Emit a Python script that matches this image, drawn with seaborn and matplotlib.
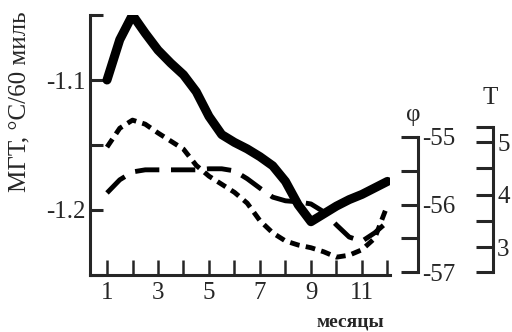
import numpy as np
import matplotlib
matplotlib.use('Agg')
import matplotlib.pyplot as plt
import seaborn as sns

# Данные (шаг - полмесяца)
months = [1, 1.5, 2, 2.5, 3, 3.5, 4, 4.5, 5, 5.5, 6, 6.5,
          7, 7.5, 8, 8.5, 9, 9.5, 10, 10.5, 11, 11.5, 12]
mgt = [-1.100, -1.069, -1.050, -1.064, -1.077, -1.087, -1.096, -1.109,
       -1.128, -1.142, -1.148, -1.153, -1.159, -1.166, -1.178, -1.196,
       -1.209, -1.203, -1.197, -1.192, -1.188, -1.183, -1.178]
phi = [-55.15, -54.87, -54.75, -54.81, -54.94, -55.06, -55.18, -55.42,
       -55.58, -55.70, -55.82, -55.98, -56.24, -56.42, -56.54, -56.60,
       -56.64, -56.70, -56.78, -56.75, -56.67, -56.50, -56.01]
temp = [4.03, 4.28, 4.43, 4.47, 4.47, 4.47, 4.47, 4.47, 4.49, 4.49,
        4.45, 4.30, 4.12, 3.95, 3.88, 3.86, 3.82, 3.67, 3.42, 3.19,
        3.11, 3.27, 3.48]

month_ticks = list(range(1, 13))
month_labels = [str(m) if m % 2 else '' for m in month_ticks]

sns.set_style('ticks')
plt.rcParams['font.family'] = ['Liberation Serif', 'DejaVu Serif']
plt.rcParams['axes.linewidth'] = 2.2

fig = plt.figure(figsize=(5.12, 3.32), dpi=100)
ax = fig.add_axes([90 / 512, 57 / 332, 300 / 512, 260 / 332])

sns.lineplot(x=months, y=mgt, ax=ax, color='black', lw=6.5,
             solid_capstyle='round', solid_joinstyle='round')
ax.set_xlim(0.333, 12.1)
ax.set_ylim(-1.25, -1.05)
sns.despine(ax=ax)

ax.set_xticks(month_ticks)
ax.set_xticklabels(month_labels)
ax.set_yticks([-1.25, -1.2, -1.15, -1.1, -1.05])
ax.set_yticklabels(['', '-1.2', '', '-1.1', ''])
ax.tick_params(axis='x', direction='in', length=11, width=1.8,
               labelsize=18, pad=5)
ax.tick_params(axis='y', direction='in', length=9, width=2.2,
               labelsize=18, pad=3)
ax.set_ylabel('МГТ, °С/60 миль', fontsize=18)
ax.yaxis.set_label_coords(-0.2, 0.665)
fig.text(350 / 512, 1 - 322 / 332, 'месяцы', ha='center', va='center',
         fontsize=14, fontweight='bold')

# ось φ
ax2 = ax.twinx()
sns.lineplot(x=months, y=phi, ax=ax2, color='black', lw=3.5,
             linestyle=(0, (2, 1.3)))
ax2.set_ylim(-57.044, -53.193)
for s in ['left', 'top', 'bottom']:
    ax2.spines[s].set_visible(False)
ax2.spines['right'].set_position(('axes', (418 - 90) / 300))
ax2.spines['right'].set_bounds(-57, -55)
ax2.set_yticks([-57, -56.5, -56, -55.5, -55])
ax2.set_yticklabels(['-57', '', '-56', '', '-55'])
ax2.tick_params(axis='y', direction='in', length=12, width=2.2,
                labelsize=18, pad=3)
ax2.set_ylabel('')
fig.text(413 / 512, 1 - 115 / 332, 'φ', ha='center', va='center',
         fontsize=18)

# ось T
ax3 = ax.twinx()
sns.lineplot(x=months, y=temp, ax=ax3, color='black', lw=3.5,
             linestyle=(0, (5, 2.4)))
ax3.set_ylim(2.467, 7.419)
for s in ['left', 'top', 'bottom']:
    ax3.spines[s].set_visible(False)
ax3.spines['right'].set_position(('axes', (493 - 90) / 300))
ax3.spines['right'].set_bounds(2.52, 5.29)
ax3.set_yticks([2.52, 3, 3.5, 4, 4.5, 5, 5.29])
ax3.set_yticklabels(['', '3', '', '4', '', '5', ''])
ax3.tick_params(axis='y', direction='in', length=12, width=2.2,
                labelsize=18, pad=3)
ax3.set_ylabel('')
fig.text(490 / 512, 1 - 98 / 332, 'T', ha='center', va='center',
         fontsize=18)

fig.savefig('out.png', dpi=100)
